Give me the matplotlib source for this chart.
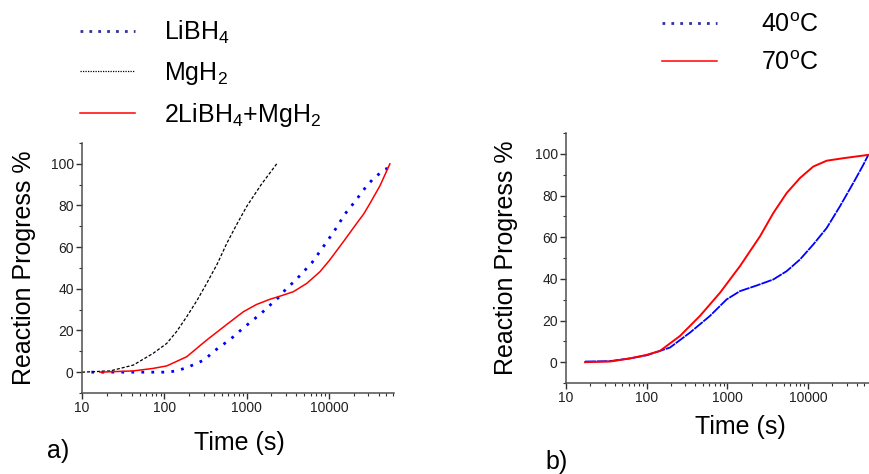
import matplotlib
matplotlib.use("Agg")
import matplotlib.pyplot as plt
from matplotlib.lines import Line2D
from matplotlib.ticker import LogLocator, MultipleLocator, NullFormatter, FixedLocator

plt.rcParams['font.family'] = ['Liberation Sans', 'DejaVu Sans']
plt.rcParams['mathtext.fontset'] = 'custom'
plt.rcParams['mathtext.rm'] = 'Liberation Sans'
plt.rcParams['mathtext.it'] = 'Liberation Sans:italic'
plt.rcParams['mathtext.bf'] = 'Liberation Sans:bold'

# ---- Panel a data (time s, reaction progress %) ----
mgh2_t = [10, 22, 42, 73, 107, 141, 187, 250, 327, 440, 575, 760, 1000, 1500, 2320]
mgh2_y = [0, 0.6, 3.4, 9, 13.8, 19.5, 26.6, 34.5, 42.6, 52, 61.9, 71, 79.5, 90, 100]

libh4_t = [13, 20, 30, 45, 65, 107, 141, 187, 247, 313, 392, 520, 690, 880, 1170, 1530,
           1930, 2500, 3050, 3860, 6200, 8530, 11500, 15700, 20800, 27000, 34700, 48000, 59600]
libh4_y = [0, 0, 0, 0, 0, 0, 0.6, 2.2, 4.2, 6.1, 9.8, 13.3, 17, 20.7, 24.7, 28.5,
           32.2, 36.2, 40.2, 43.8, 52.5, 60.2, 67.5, 76, 82, 88, 93, 97.4, 98.7]

mix_t = [16.5, 42, 73, 107, 187, 327, 600, 912, 1320, 1924, 2550, 3690, 5370, 7770,
         10200, 14960, 21800, 26500, 31600, 41700, 55000]
mix_y = [0, 0.6, 1.8, 3.0, 7.4, 15.4, 23.5, 29, 32.5, 35, 36.5, 38.6, 42.6, 48.2,
         53.8, 62.6, 71.5, 76, 81.1, 89.5, 100]

# ---- Panel b data ----
t70 = [17.2, 35, 62, 100, 146, 259, 457, 809, 1432, 2535, 3710, 5430, 7940, 11600,
       17000, 27300, 55700]
y70 = [0, 0.3, 1.8, 3.5, 5.4, 12.6, 22.2, 33.3, 46.1, 60.4, 71.6, 81.2, 88.4, 93.9,
       96.7, 97.9, 99.5]

t40 = [17.2, 35, 62, 100, 194, 344, 608, 977, 1432, 2307, 3710, 5430, 7940, 11600,
       17000, 24800, 36300, 48300, 55700]
y40 = [0.3, 0.5, 1.8, 3.3, 7.0, 14.2, 22.2, 30.1, 34.1, 36.8, 39.7, 43.7, 49.3, 56.5,
       64.4, 74.8, 86.0, 94.7, 99.5]

labels_a = ['LiBH$_4$', 'MgH$_2$', '2LiBH$_4$+MgH$_2$']
labels_b = ['40$^\\mathrm{o}$C', '70$^\\mathrm{o}$C']
xlabel = 'Time (s)'
ylabel = 'Reaction Progress %'
yticks = [0, 20, 40, 60, 80, 100]
xticks = [10, 100, 1000, 10000]

fig = plt.figure(figsize=(8.7, 4.74), dpi=100)
W, H = 870, 474

def px_axes(l, t, r, b):
    return fig.add_axes([l / W, 1 - b / H, (r - l) / W, (b - t) / H])

axa = px_axes(82, 143, 394, 393)
axb = px_axes(566, 133, 870, 383)

spine_col = '#505050'
for ax, xmax in ((axa, 61700), (axb, 58500)):
    ax.set_xscale('log')
    ax.set_xlim(10, xmax)
    ax.set_ylim(-10, 110)
    for s in ('top', 'right'):
        ax.spines[s].set_visible(False)
    for s in ('left', 'bottom'):
        ax.spines[s].set_color(spine_col)
        ax.spines[s].set_linewidth(1.1)
    ax.xaxis.set_major_locator(FixedLocator(xticks))
    ax.set_xticklabels([str(v) for v in xticks])
    ax.xaxis.set_minor_locator(LogLocator(base=10, subs=range(2, 10)))
    ax.xaxis.set_minor_formatter(NullFormatter())
    ax.set_yticks(yticks)
    ax.yaxis.set_minor_locator(MultipleLocator(10))
    ax.tick_params(which='major', direction='out', length=4, width=1.0, color='#303030',
                   labelsize=10, labelcolor='#202020', pad=2)
    ax.tick_params(which='minor', direction='out', length=2.5, width=0.8, color='#303030')
    ax.set_xlabel(xlabel, fontsize=18, va='center', ha='center')
    ax.set_ylabel(ylabel, fontsize=18, va='center', ha='center')

axa.xaxis.set_label_coords(0.506, -0.2)
axa.yaxis.set_label_coords(-0.186, 0.5)
axb.xaxis.set_label_coords(0.572, -0.176)
axb.yaxis.set_label_coords(-0.197, 0.5)

# Panel a curves
axa.plot(libh4_t, libh4_y, color='#0000ff', lw=2.0, ls=(0, (1, 2.6)))
axa.plot(mgh2_t, mgh2_y, color='black', lw=0.9, ls=(0, (2.5, 1.5)))
axa.plot(mix_t, mix_y, color='#ff0000', lw=1.1)

# Panel b curves
axb.plot(t40, y40, color='#0000ff', lw=1.3, ls=(0, (6, 0.5)))
axb.plot(t70, y70, color='#ff0000', lw=1.4)

# Legends
ha = [Line2D([], [], color='#3030a0', lw=2.0, ls=(0, (1, 2.2))),
      Line2D([], [], color='black', lw=0.9, ls=(0, (1, 1))),
      Line2D([], [], color='#ff0000', lw=1.1)]
fig.legend(ha, labels_a, loc='upper left', bbox_to_anchor=(80 / W, 1 - 19 / H),
           frameon=False, fontsize=18, borderpad=0, borderaxespad=0,
           handlelength=2.2, handletextpad=1.15, labelspacing=0.55)

hb = [Line2D([], [], color='#3030a0', lw=2.0, ls=(0, (1, 2.2))),
      Line2D([], [], color='#ff0000', lw=1.1)]
fig.legend(hb, labels_b, loc='upper left', bbox_to_anchor=(662 / W, 1 - 13 / H),
           frameon=False, fontsize=18, borderpad=0, borderaxespad=0,
           handlelength=2.2, handletextpad=1.75, labelspacing=0.55)

fig.text(58 / W, 1 - 451 / H, 'a)', fontsize=18, ha='center', va='center')
fig.text(557 / W, 1 - 462 / H, 'b)', fontsize=18, ha='center', va='center')

fig.savefig('out.png', dpi=100)
